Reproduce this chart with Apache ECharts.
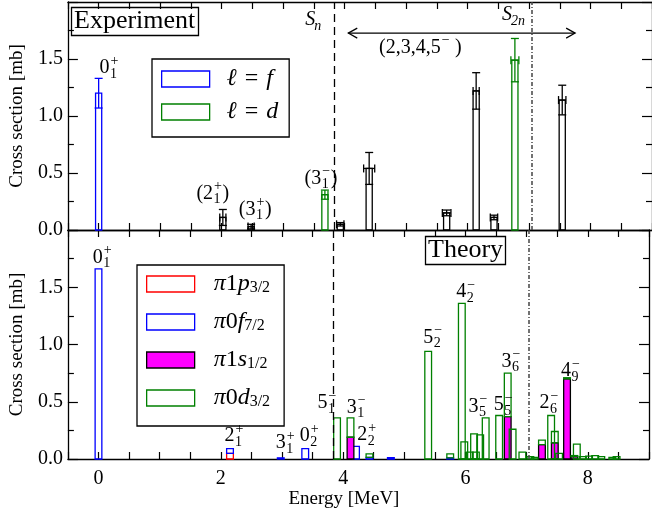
<!DOCTYPE html>
<html>
<head>
<meta charset="utf-8">
<script src="https://cdn.jsdelivr.net/npm/echarts@6/dist/echarts.min.js"></script>
<style>
	html,body{margin:0;padding:0;background:#fff}
	#main{width:652px;height:512px}
</style>
</head>
<body>
<div id="main"></div>
<script>
var FONT = 'Liberation Serif';

// ---- experiment (top panel) ----
var expE    = [0.00, 2.02, 2.48, 3.68, 3.93, 4.40, 5.66, 6.14, 6.43, 6.77, 7.54];
var expXS   = [1.20, 0.11, 0.03, 0.31, 0.05, 0.54, 0.15, 1.22, 0.11, 1.49, 1.14];
var expErr  = [0.13, 0.07, 0.02, 0.04, 0.015, 0.14, 0.025, 0.16, 0.02, 0.19, 0.13];
var expEErr = [0.00, 0.05, 0.05, 0.05, 0.06, 0.09, 0.07, 0.05, 0.06, 0.065, 0.06];
var expL    = ['f', 'n', 'n', 'd', 'n', 'n', 'n', 'n', 'n', 'd', 'n'];

// ---- theory (bottom panel), stacked p3/2, f7/2, s1/2, d3/2 ----
var thE = [0.00, 2.15, 2.98, 3.38, 3.90, 4.12, 4.21, 4.43, 4.78, 5.39, 5.75, 5.94, 5.98, 6.07, 6.14, 6.17, 6.24, 6.33, 6.55, 6.69, 6.77, 6.93, 7.06, 7.13, 7.25, 7.40, 7.46, 7.53, 7.66, 7.78, 7.82, 7.92, 8.02, 8.12, 8.22, 8.40, 8.47];
var thP = [0, 0.05, 0, 0, 0, 0, 0, 0, 0, 0, 0, 0, 0, 0, 0, 0, 0, 0, 0, 0, 0, 0, 0, 0, 0, 0, 0, 0, 0, 0, 0, 0, 0, 0, 0, 0, 0];
var thF = [1.66, 0.04, 0.01, 0.09, 0, 0, 0.11, 0.015, 0.012, 0, 0.01, 0, 0, 0, 0, 0, 0, 0, 0, 0, 0, 0, 0, 0, 0, 0, 0, 0, 0, 0, 0, 0, 0, 0, 0, 0, 0];
var thS = [0, 0, 0, 0, 0, 0.19, 0, 0, 0, 0, 0, 0, 0, 0, 0, 0, 0, 0, 0, 0.37, 0, 0, 0, 0, 0.125, 0, 0.14, 0, 0.70, 0.02, 0, 0, 0, 0, 0, 0, 0];
var thD = [0, 0, 0, 0, 0.36, 0.17, 0, 0.03, 0, 0.94, 0.035, 1.36, 0.15, 0.06, 0.22, 0.06, 0.21, 0.36, 0.38, 0.38, 0.26, 0.06, 0.02, 0.015, 0.04, 0.38, 0.10, 0.05, 0.01, 0.01, 0.13, 0.02, 0.025, 0.03, 0.02, 0.015, 0.02];

// thresholds and the (2,3,4,5-) arrow
var Sn = 3.84, S2n = 7.04;
var arrX = [4.06, 7.75], arrY = 1.727;

// ---- state labels: left edge (MeV), middle (mb) ----
var topLabX    = [0.013, 1.59, 2.28, 3.35, 3.36, 6.56, 4.56];
var topLabY    = [1.42, 0.32, 0.18, 0.45, 1.84, 1.886, 1.60];
var topLabBase = ['0', '(2', '(3', '(3', 'S', 'S', '(2,3,4,5'];
var topLabSub  = ['1', '1', '1', '1', 'n', '2n', ''];
var topLabSup  = ['+', '+', '+', '\u2212', '', '', '\u2212'];
var topLabPost = ['', ')', ')', ')', '', '', ' )'];
var topLabIt   = [false, false, false, false, true, true, false];

var botLabX    = [-0.095, 2.06, 2.90, 3.29, 3.58, 4.06, 4.23, 5.31, 5.85, 6.59, 6.05, 6.46, 7.21, 7.56];
var botLabY    = [1.76, 0.20, 0.14, 0.20, 0.49, 0.45, 0.21, 1.06, 1.46, 0.85, 0.46, 0.47, 0.49, 0.77];
var botLabBase = ['0', '2', '3', '0', '5', '3', '2', '5', '4', '3', '3', '5', '2', '4'];
var botLabSub  = ['1', '1', '1', '2', '1', '1', '2', '2', '2', '6', '5', '5', '6', '9'];
var botLabSup  = ['+', '+', '+', '+', '\u2212', '\u2212', '+', '\u2212', '\u2212', '\u2212', '\u2212', '\u2212', '\u2212', '\u2212'];

var legTop = {lf: '{g|}{i|\u2113}{e|=}{i|f}', ld: '{g|}{i|\u2113}{e|=}{i|d}'};
var legBot = {
	p3: '{h|}{i|\u03c0}{n|1}{i|p}{s|3/2}',
	f7: '{h|}{i|\u03c0}{n|0}{i|f}{s|7/2}',
	s1: '{h|}{i|\u03c0}{n|1}{i|s}{s|1/2}',
	d3: '{h|}{i|\u03c0}{n|0}{i|d}{s|3/2}'
};

var mctx = document.createElement('canvas').getContext('2d');
function tw(t, size, it){
	mctx.font = (it ? 'italic ' : '') + size + 'px "Liberation Serif"';
	return mctx.measureText(t).width;
}

function txt(x, y, s, size, it){
	return {type: 'text', x: x, y: y, style: {text: s, fontSize: size, fontFamily: FONT, fontStyle: it ? 'italic' : 'normal',
		fill: '#000', align: 'left', verticalAlign: 'middle', textAlign: 'left', textVerticalAlign: 'middle'}};
}

function labelRender(L){
	var FS = 20, SS = 14;
	return function(params, api){
		var i = params.dataIndex;
		var p = api.coord([L.x[i], L.y[i]]);
		var it = L.it ? L.it[i] : false;
		var wb = tw(L.base[i], FS, it);
		var ws = L.sub[i] ? tw(L.sub[i], SS, it) : 0;
		var wp = L.sup[i] ? tw(L.sup[i], SS, false) : 0;
		var kids = [txt(p[0], p[1], L.base[i], FS, it)];
		if (L.sub[i]) kids.push(txt(p[0] + wb + (it ? -1 : 0.5), p[1] + 6, L.sub[i], SS, it));
		if (L.sup[i]) kids.push(txt(p[0] + wb + 1, p[1] - 7, L.sup[i], SS, false));
		if (L.post && L.post[i]) kids.push(txt(p[0] + wb + Math.max(ws, wp) + 1.5, p[1], L.post[i], FS, false));
		return {type: 'group', children: kids};
	};
}

function expRender(col){
	var W = 0.1;
	return function(params, api){
		var e = api.value(0), v = api.value(1), er = api.value(2), xe = api.value(3);
		var a = api.coord([e - W / 2, 0]), b = api.coord([e + W / 2, v]);
		var t = api.coord([e, v + er]), d = api.coord([e, v - er]), c = api.coord([e, v]);
		var st = {stroke: col, lineWidth: 1.3, fill: null};
		var kids = [
			{type: 'rect', shape: {x: a[0], y: b[1], width: b[0] - a[0], height: a[1] - b[1]}, style: {stroke: col, lineWidth: 1.3, fill: 'rgba(0,0,0,0)'}},
			{type: 'line', shape: {x1: t[0], y1: t[1], x2: d[0], y2: d[1]}, style: st},
			{type: 'line', shape: {x1: t[0] - 4, y1: t[1], x2: t[0] + 4, y2: t[1]}, style: st},
			{type: 'line', shape: {x1: d[0] - 4, y1: d[1], x2: d[0] + 4, y2: d[1]}, style: st}
		];
		if (xe > 0) {
			var l = api.coord([e - xe, v]), r = api.coord([e + xe, v]);
			kids.push({type: 'line', shape: {x1: l[0], y1: c[1], x2: r[0], y2: c[1]}, style: st});
			kids.push({type: 'line', shape: {x1: l[0], y1: c[1] - 4, x2: l[0], y2: c[1] + 4}, style: st});
			kids.push({type: 'line', shape: {x1: r[0], y1: c[1] - 4, x2: r[0], y2: c[1] + 4}, style: st});
		}
		return {type: 'group', children: kids};
	};
}

function thRender(fill, stroke){
	var W = 0.11;
	return function(params, api){
		var e = api.value(0), lo = api.value(1), v = api.value(2);
		var a = api.coord([e - W / 2, lo]), b = api.coord([e + W / 2, lo + v]);
		return {type: 'rect', shape: {x: a[0], y: b[1], width: b[0] - a[0], height: a[1] - b[1]},
			style: {fill: fill, stroke: stroke, lineWidth: 1.3}};
	};
}

function expData(tag){
	var out = [];
	for (var i = 0; i < expE.length; i++) if (expL[i] === tag) out.push([expE[i], expXS[i], expErr[i], expEErr[i]]);
	return out;
}

var comps = [thP, thF, thS, thD];
function thData(k){
	var out = [];
	for (var i = 0; i < thE.length; i++) {
		var lo = 0;
		for (var j = 0; j < k; j++) lo += comps[j][i];
		if (comps[k][i] > 0) out.push([thE[i], lo, comps[k][i]]);
	}
	return out;
}

var thresh = {
	silent: true, symbol: 'none', label: {show: false}, animation: false,
	data: [
		{xAxis: Sn, lineStyle: {type: [8, 5], color: '#000', width: 1.3}},
		{xAxis: S2n, lineStyle: {type: [4, 2, 1, 2], color: '#444', width: 1.5}}
	]
};

function xAx(g, pos, lab){
	return {
		type: 'value', gridIndex: g, position: pos, min: -0.5, max: 9, interval: 0.5,
		axisLine: {onZero: false, lineStyle: {color: '#000', width: 1.3}},
		axisTick: {inside: true, length: 7, lineStyle: {color: '#000', width: 1.2}},
		axisLabel: {show: lab, margin: 10, color: '#000', fontFamily: FONT, fontSize: 20,
			formatter: function(v){ return (Math.abs(v % 2) < 1e-9) ? String(v) : ''; }},
		splitLine: {show: false},
		name: lab ? 'Energy [MeV]' : '', nameLocation: 'middle', nameGap: 26,
		nameTextStyle: {color: '#000', fontFamily: FONT, fontSize: 19, padding: [0, 29, 0, 0]}
	};
}
function yAx(g, pos, lab){
	return {
		type: 'value', gridIndex: g, position: pos, min: 0, max: 2, interval: 0.5,
		axisLine: {onZero: false, lineStyle: {color: '#000', width: 1.3}},
		axisTick: {inside: true, length: 10, lineStyle: {color: '#000', width: 1.2}},
		minorTick: {show: true, splitNumber: 2, length: 6, lineStyle: {color: '#000', width: 1.2}},
		axisLabel: {show: lab, margin: 5, color: '#000', fontFamily: FONT, fontSize: 20,
			formatter: function(v){ return v >= 2 ? '' : v.toFixed(1); }},
		splitLine: {show: false},
		name: lab ? 'Cross section [mb]' : '', nameLocation: 'middle', nameGap: 34,
		nameTextStyle: {color: '#000', fontFamily: FONT, fontSize: 19}
	};
}

var richLeg = {
	g: {width: 12},
	h: {width: 14},
	i: {fontFamily: FONT, fontStyle: 'italic', fontSize: 24, lineHeight: 24, color: '#000'},
	n: {fontFamily: FONT, fontSize: 24, lineHeight: 24, color: '#000'},
	e: {fontFamily: FONT, fontSize: 24, lineHeight: 24, color: '#000', padding: [0, 8, 0, 8]},
	s: {fontFamily: FONT, fontSize: 16, lineHeight: 12, verticalAlign: 'bottom', color: '#000'}
};

var option = {
	animation: false,
	backgroundColor: '#fff',
	title: [
		{text: 'Experiment', left: 71, top: 7, padding: [0, 3, 0, 3], borderColor: '#000', borderWidth: 1.3,
			textStyle: {fontFamily: FONT, fontSize: 26, fontWeight: 'normal', color: '#000', lineHeight: 29}},
		{text: 'Theory', left: 425, top: 236, padding: [0, 3, 0, 3], borderColor: '#000', borderWidth: 1.3, backgroundColor: '#fff',
			textStyle: {fontFamily: FONT, fontSize: 26, fontWeight: 'normal', color: '#000', lineHeight: 29}}
	],
	legend: [
		{orient: 'vertical', left: 152, top: 59, padding: [8, 11, 13, 9], itemGap: 9, itemWidth: 48, itemHeight: 16,
			borderColor: '#000', borderWidth: 1.3, backgroundColor: '#fff', selectedMode: false,
			data: [
				{name: 'lf', icon: 'rect', itemStyle: {color: 'rgba(0,0,0,0)', borderColor: '#0000ff', borderWidth: 1.3}},
				{name: 'ld', icon: 'rect', itemStyle: {color: 'rgba(0,0,0,0)', borderColor: '#008000', borderWidth: 1.3}}
			],
			formatter: function(n){ return legTop[n]; }, textStyle: {rich: richLeg}},
		{orient: 'vertical', left: 137, top: 265, padding: [7, 14, 16, 9], itemGap: 14, itemWidth: 48, itemHeight: 16,
			borderColor: '#000', borderWidth: 1.3, backgroundColor: '#fff', selectedMode: false,
			data: [
				{name: 'p3', icon: 'rect', itemStyle: {color: 'rgba(0,0,0,0)', borderColor: '#ff0000', borderWidth: 1.3}},
				{name: 'f7', icon: 'rect', itemStyle: {color: 'rgba(0,0,0,0)', borderColor: '#0000ff', borderWidth: 1.3}},
				{name: 's1', icon: 'rect', itemStyle: {color: '#ff00ff', borderColor: '#000', borderWidth: 1.3}},
				{name: 'd3', icon: 'rect', itemStyle: {color: 'rgba(0,0,0,0)', borderColor: '#008000', borderWidth: 1.3}}
			],
			formatter: function(n){ return legBot[n]; }, textStyle: {rich: richLeg}}
	],
	grid: [
		{left: 64, top: 2, width: 589, height: 228},
		{left: 64, top: 230, width: 589, height: 229}
	],
	xAxis: [xAx(0, 'bottom', false), xAx(0, 'top', false), xAx(1, 'bottom', true), xAx(1, 'top', false)],
	yAxis: [yAx(0, 'left', true), yAx(0, 'right', false), yAx(1, 'left', true), yAx(1, 'right', false)],
	series: [
		{name: 'lf', type: 'custom', xAxisIndex: 0, yAxisIndex: 0, renderItem: expRender('#0000ff'), data: expData('f'),
			itemStyle: {color: 'rgba(0,0,0,0)', borderColor: '#0000ff'}},
		{name: 'ld', type: 'custom', xAxisIndex: 0, yAxisIndex: 0, renderItem: expRender('#008000'), data: expData('d'),
			itemStyle: {color: 'rgba(0,0,0,0)', borderColor: '#008000'}},
		{name: 'unassigned', type: 'custom', xAxisIndex: 0, yAxisIndex: 0, renderItem: expRender('#000'), data: expData('n'),
			itemStyle: {color: '#000'}, markLine: thresh},
		{name: 'arrow', type: 'custom', xAxisIndex: 0, yAxisIndex: 0, data: [[arrX[0], arrY, arrX[1]]],
			renderItem: function(params, api){
				var a = api.coord([arrX[0], arrY]), b = api.coord([arrX[1], arrY]);
				var st = {stroke: '#000', lineWidth: 1.2, fill: null};
				return {type: 'group', children: [
					{type: 'line', shape: {x1: a[0], y1: a[1], x2: b[0], y2: b[1]}, style: st},
					{type: 'polyline', shape: {points: [[a[0] + 9, a[1] - 5], [a[0], a[1]], [a[0] + 9, a[1] + 5]]}, style: st},
					{type: 'polyline', shape: {points: [[b[0] - 9, b[1] - 5], [b[0], b[1]], [b[0] - 9, b[1] + 5]]}, style: st}
				]};
			}},
		{name: 'topLabels', type: 'custom', xAxisIndex: 0, yAxisIndex: 0, z: 5,
			data: topLabX.map(function(x, i){ return [x, topLabY[i]]; }),
			renderItem: labelRender({x: topLabX, y: topLabY, base: topLabBase, sub: topLabSub, sup: topLabSup, post: topLabPost, it: topLabIt})},
		{name: 'p3', type: 'custom', xAxisIndex: 2, yAxisIndex: 2, renderItem: thRender('rgba(0,0,0,0)', '#ff0000'), data: thData(0),
			itemStyle: {color: 'rgba(0,0,0,0)', borderColor: '#ff0000'}},
		{name: 'f7', type: 'custom', xAxisIndex: 2, yAxisIndex: 2, renderItem: thRender('rgba(0,0,0,0)', '#0000ff'), data: thData(1),
			itemStyle: {color: 'rgba(0,0,0,0)', borderColor: '#0000ff'}},
		{name: 's1', type: 'custom', xAxisIndex: 2, yAxisIndex: 2, renderItem: thRender('#ff00ff', '#000'), data: thData(2),
			itemStyle: {color: '#ff00ff', borderColor: '#000'}},
		{name: 'd3', type: 'custom', xAxisIndex: 2, yAxisIndex: 2, renderItem: thRender('rgba(0,0,0,0)', '#008000'), data: thData(3),
			itemStyle: {color: 'rgba(0,0,0,0)', borderColor: '#008000'}, markLine: thresh},
		{name: 'botLabels', type: 'custom', xAxisIndex: 2, yAxisIndex: 2, z: 5,
			data: botLabX.map(function(x, i){ return [x, botLabY[i]]; }),
			renderItem: labelRender({x: botLabX, y: botLabY, base: botLabBase, sub: botLabSub, sup: botLabSup})}
	]
};

var myChart = echarts.init(document.getElementById('main'));
myChart.setOption(option);
</script>
</body>
</html>
